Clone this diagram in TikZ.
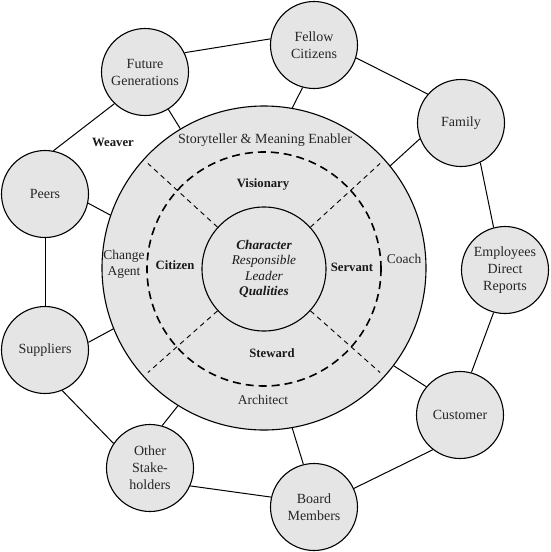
\documentclass[tikz,border=0pt]{standalone}
\usepackage{fontspec}
\setmainfont{Liberation Serif}
\begin{document}
\begin{tikzpicture}[x=1pt,y=-1pt,
  sat/.style={circle,draw=black,line width=1.1pt,fill=black!10,minimum size=87pt,inner sep=0pt,align=center,
    font=\fontsize{14}{17}\selectfont,text=black!85},
  conn/.style={line width=1pt,black},
  blab/.style={font=\fontsize{12.7}{15}\selectfont\bfseries,text=black!90},
  rlab/.style={font=\fontsize{14}{16}\selectfont,text=black!85,align=center},
  sep/.style={line width=0.9pt,dash pattern=on 5pt off 4pt}]
\useasboundingbox (0,0) rectangle (550,552);
% central circles
\node[circle,draw=black,line width=1.1pt,fill=black!10,minimum size=324pt,inner sep=0pt] (big) at (264,268) {};
\node[circle,draw=none,minimum size=312pt,inner sep=0pt] (guide) at (264,268) {};
\node[circle,draw=black,line width=1.6pt,dash pattern=on 8pt off 5pt,minimum size=234pt,inner sep=0pt] (dash) at (264,269) {};
\node[circle,draw=black,line width=1.1pt,fill=black!10,minimum size=124pt,inner sep=0pt,align=center,
  font=\fontsize{13.3}{15.5}\selectfont\itshape,text=black!90] (core) at (264,269)
  {\textbf{Character}\\Responsible\\Leader\\\textbf{Qualities}};
% separators
\foreach \a in {42,138,222,318}
  \draw[sep] (core.\a) -- (guide.\a);
% satellites
\node[sat] (fg) at (145,72) {Future\\Generations};
\node[sat] (fc) at (314,45) {Fellow\\Citizens};
\node[sat] (fam) at (461,123) {Family};
\node[sat] (emp) at (505,270) {Employees\\Direct\\Reports};
\node[sat] (cus) at (460,415) {Customer};
\node[sat] (brd) at (314,507) {Board\\Members};
\node[sat] (oth) at (150,468) {Other\\Stake-\\holders};
\node[sat] (sup) at (45,350) {Suppliers};
\node[sat] (peer) at (45,194) {Peers};
% ring
\draw[conn] (fg.26) -- (fc.172);
\draw[conn] (fc.343) -- (fam.139);
\draw[conn] (fam.296) -- (emp.105);
\draw[conn] (emp.255) -- (cus.75);
\draw[conn] (cus.232) -- (brd.25);
\draw[conn] (brd.167) -- (oth.336);
\draw[conn] (oth.146) -- (sup.293);
\draw[conn] (sup.90) -- (peer.270);
\draw[conn] (peer.79) -- (fg.226);
% spokes
\draw[conn] (fg.302) -- (big.121);
\draw[conn] (fc.255) -- (big.80);
\draw[conn] (fam.201) -- (big.39);
\draw[conn] (cus.140) -- (big.323);
\draw[conn] (brd.104) -- (big.280);
\draw[conn] (oth.74) -- (big.238);
\draw[conn] (sup.10) -- (big.202);
\draw[conn] (peer.348) -- (big.161);
% labels
\node[blab] (weaver) at (113,142) {Weaver};
\node[rlab] (story) at (265,140) {Storyteller \& Meaning Enabler};
\node[blab] (vis) at (263,184) {Visionary};
\node[blab] (cit) at (175,265) {Citizen};
\node[rlab,font=\fontsize{13.5}{16}\selectfont] (chg) at (124,264) {Change\\Agent};
\node[blab] (serv) at (352,267) {Servant};
\node[rlab,font=\fontsize{13.5}{16}\selectfont] (coach) at (404,259) {Coach};
\node[blab] (stew) at (272,353) {Steward};
\node[rlab,font=\fontsize{13.5}{16}\selectfont] (arch) at (263,400) {Architect};
\end{tikzpicture}
\end{document}
